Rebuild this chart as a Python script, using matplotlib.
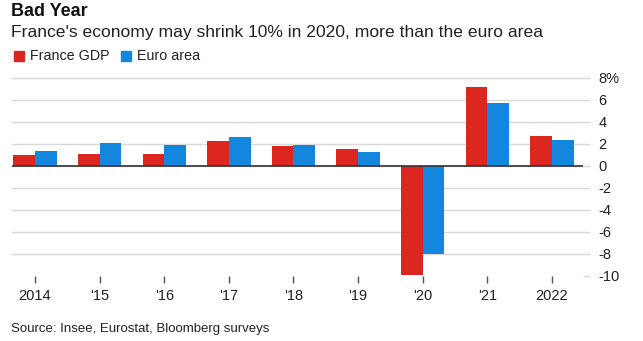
import matplotlib
matplotlib.use("Agg")
import matplotlib.pyplot as plt
from matplotlib.patches import Rectangle
import numpy as np

plt.rcParams['font.family'] = ['Liberation Sans', 'DejaVu Sans']

years = ["2014", "'15", "'16", "'17", "'18", "'19", "'20", "'21", "2022"]
france_gdp = [1.0, 1.1, 1.1, 2.3, 1.8, 1.5, -9.9, 7.2, 2.7]
euro_area = [1.4, 2.1, 1.9, 2.6, 1.9, 1.3, -8.0, 5.7, 2.4]
y_ticks = [8, 6, 4, 2, 0, -2, -4, -6, -8, -10]
y_labels = ["8%", "6", "4", "2", "0", "-2", "-4", "-6", "-8", "-10"]

RED = "#dc2620"
BLUE = "#1386dd"
GRID = "#d9d9d9"
TEXT = "#222222"

W, H = 643, 341
fig = plt.figure(figsize=(W / 100, H / 100), dpi=100)

ax_left, ax_right, ax_top, ax_bottom = 12, 583, 78, 276
ax = fig.add_axes([ax_left / W, 1 - ax_bottom / H,
                   (ax_right - ax_left) / W, (ax_bottom - ax_top) / H])

x = np.arange(len(years))
bw = 0.336
ax.bar(x - bw / 2, france_gdp, width=bw, color=RED, zorder=3)
ax.bar(x + bw / 2, euro_area, width=bw, color=BLUE, zorder=3)

ax.set_xlim(-0.356, 8.48)
ax.set_ylim(-10, 8)

for v in y_ticks:
    if v == -10:
        continue
    ax.axhline(v, color=GRID, lw=1.0, zorder=1, clip_on=False)
ax.axhline(0, color="#333333", lw=1.2, zorder=4)

for s in ax.spines.values():
    s.set_visible(False)

ax.yaxis.tick_right()
ax.set_yticks(y_ticks)
ax.set_yticklabels(y_labels)
ax.tick_params(axis="y", length=5, width=1.0, color=GRID, pad=6,
               labelsize=10.5, labelcolor=TEXT)
for lab in ax.get_yticklabels():
    lab.set_horizontalalignment("left")

ax.set_xticks(x)
ax.set_xticklabels(years)
ax.tick_params(axis="x", length=5, width=1.0, color="#555555", pad=4,
               labelsize=10.5, labelcolor=TEXT)

fig.text(11 / W, 1 - 12 / H, "Bad Year", fontsize=13, fontweight="bold",
         color="#111111", va="center", ha="left")
fig.text(11 / W, 1 - 33 / H,
         "France's economy may shrink 10% in 2020, more than the euro area",
         fontsize=12.6, color=TEXT, va="center", ha="left")

# legend
sq = 10
for x0, col, label in [(14, RED, "France GDP"), (121, BLUE, "Euro area")]:
    fig.patches.append(Rectangle((x0 / W, 1 - 61 / H), sq / W, sq / H,
                                 transform=fig.transFigure, color=col))
    fig.text((x0 + sq + 6) / W, 1 - 56 / H, label, fontsize=10.3,
             color=TEXT, va="center", ha="left")

fig.text(11 / W, 1 - 329 / H, "Source: Insee, Eurostat, Bloomberg surveys",
         fontsize=9.5, color=TEXT, va="center", ha="left")

fig.savefig("out.png", dpi=100)
